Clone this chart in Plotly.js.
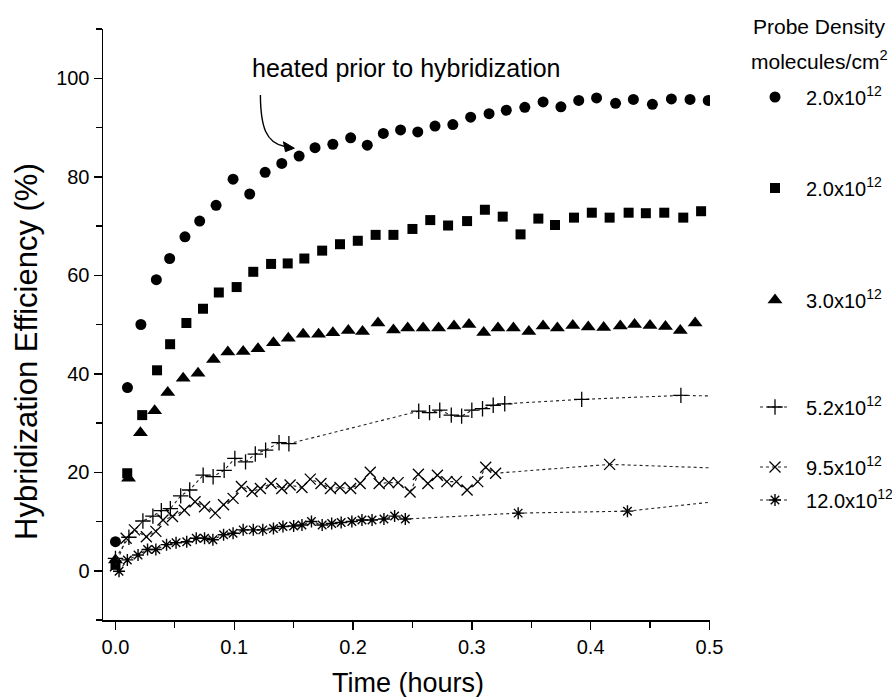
<!DOCTYPE html>
<html>
<head>
<meta charset="utf-8">
<script src="https://cdn.plot.ly/plotly-3.0.1.min.js"></script>
<style>html,body{margin:0;padding:0;background:#fff;}#chart{width:892px;height:697px;}</style>
</head>
<body>
<div id="chart"></div>
<script>
// ---- data ----
const circleX = [0, 0.0101, 0.0214, 0.0344, 0.0456, 0.0585, 0.0709, 0.0847, 0.099, 0.113, 0.126, 0.140, 0.1546, 0.168, 0.183, 0.198, 0.212, 0.2255, 0.240, 0.2545, 0.269, 0.284, 0.299, 0.3145, 0.329, 0.3446, 0.360, 0.375, 0.390, 0.405, 0.421, 0.436, 0.452, 0.468, 0.4837, 0.499];
const circleY = [5.9, 37.2, 50.0, 59.1, 63.4, 67.8, 71.0, 74.2, 79.5, 76.5, 80.9, 82.7, 84.2, 85.9, 86.6, 87.9, 86.4, 88.8, 89.5, 89.1, 90.3, 90.6, 92.1, 92.8, 93.5, 94.1, 95.2, 94.2, 95.5, 96.0, 94.9, 95.7, 94.7, 95.8, 95.7, 95.5];

const squareX = [0, 0.0099, 0.0225, 0.035, 0.046, 0.0597, 0.0737, 0.087, 0.102, 0.116, 0.131, 0.145, 0.159, 0.174, 0.189, 0.204, 0.219, 0.234, 0.250, 0.265, 0.280, 0.296, 0.311, 0.326, 0.341, 0.356, 0.370, 0.386, 0.401, 0.416, 0.432, 0.4465, 0.462, 0.478, 0.493];
const squareY = [1.2, 19.8, 31.6, 40.7, 46.0, 50.3, 53.2, 56.5, 57.6, 60.7, 62.3, 62.4, 63.4, 65.0, 66.3, 67.0, 68.2, 68.2, 69.4, 71.2, 70.1, 71.0, 73.3, 71.9, 68.3, 71.5, 70.2, 71.7, 72.7, 71.7, 72.7, 72.6, 72.7, 71.7, 73.0];

const triX = [0, 0.011, 0.021, 0.033, 0.044, 0.057, 0.0695, 0.0825, 0.0946, 0.1075, 0.120, 0.133, 0.1455, 0.158, 0.171, 0.183, 0.196, 0.208, 0.221, 0.234, 0.246, 0.259, 0.272, 0.285, 0.2976, 0.310, 0.322, 0.335, 0.348, 0.360, 0.372, 0.385, 0.398, 0.411, 0.425, 0.437, 0.450, 0.463, 0.4755, 0.488];
const triY = [2.2, 18.8, 28.0, 32.5, 36.2, 39.1, 40.1, 42.9, 44.4, 44.5, 45.1, 46.3, 47.2, 48.0, 48.0, 48.3, 48.8, 48.6, 50.3, 48.9, 49.3, 49.3, 49.3, 49.7, 50.0, 48.4, 49.3, 49.3, 48.6, 49.7, 49.3, 49.8, 49.5, 49.4, 49.7, 50.0, 49.8, 49.6, 48.8, 50.3];

const plusX = [0, 0.0113, 0.0231, 0.0315, 0.0386, 0.0462, 0.0549, 0.0625, 0.0738, 0.0822, 0.0915, 0.1005, 0.1095, 0.1177, 0.1264, 0.1377, 0.146, 0.2553, 0.2644, 0.273, 0.2827, 0.2914, 0.300, 0.309, 0.318, 0.3277, 0.3925, 0.476];
const plusY = [2.5, 6.8, 10.1, 11.1, 12.2, 12.6, 15.2, 16.4, 19.4, 19.1, 20.4, 22.8, 22.1, 23.7, 24.5, 26.0, 25.8, 32.4, 32.1, 32.6, 31.6, 31.4, 32.6, 32.9, 33.6, 33.9, 34.8, 35.6];

const crossX = [0, 0.009, 0.016, 0.026, 0.034, 0.040, 0.048, 0.058, 0.067, 0.075, 0.084, 0.091, 0.099, 0.106, 0.115, 0.122, 0.131, 0.140, 0.147, 0.157, 0.164, 0.173, 0.181, 0.189, 0.198, 0.206, 0.2145, 0.222, 0.230, 0.238, 0.248, 0.255, 0.263, 0.271, 0.279, 0.287, 0.296, 0.305, 0.3117, 0.320, 0.416];
const crossY = [1.0, 6.6, 8.3, 6.9, 8.0, 10.3, 11.0, 12.3, 14.0, 13.0, 11.7, 13.4, 14.7, 17.1, 16.1, 16.7, 17.7, 16.7, 17.4, 16.9, 18.6, 17.7, 16.7, 16.9, 16.7, 17.7, 20.0, 17.7, 17.9, 17.9, 16.0, 19.6, 17.7, 19.4, 18.1, 18.1, 16.4, 18.1, 21.0, 19.8, 21.6];

const starX = [0.003, 0.010, 0.019, 0.027, 0.034, 0.043, 0.051, 0.060, 0.068, 0.075, 0.082, 0.091, 0.099, 0.1075, 0.116, 0.124, 0.133, 0.141, 0.150, 0.157, 0.165, 0.174, 0.182, 0.190, 0.199, 0.2075, 0.216, 0.226, 0.235, 0.244, 0.339, 0.431];
const starY = [-0.1, 2.2, 3.2, 4.3, 4.3, 5.3, 5.7, 5.9, 6.6, 6.6, 6.3, 7.3, 7.6, 8.3, 8.3, 8.3, 8.6, 9.0, 9.1, 9.3, 10.0, 9.3, 9.6, 9.8, 10.0, 10.3, 10.3, 10.5, 11.1, 10.5, 11.7, 12.1];

// dotted curves continue to the end of the axis
const tailEndX = 0.5;
const plusTailY = 35.5;
const crossTailY = 20.9;
const starTailY = 13.9;

const seriesNames = ["2.0x10<sup>12</sup>", "2.0x10<sup>12</sup>", "3.0x10<sup>12</sup>", "5.2x10<sup>12</sup>", "9.5x10<sup>12</sup>", "12.0x10<sup>12</sup>"];

// ---- drawing ----
const FONT = "Liberation Sans, Arial, Helvetica, sans-serif";
const dotLine = {color: "#222", width: 1.1, dash: "dot"};
const PAD = "\u00a0\u00a0";

function last(a) { return a[a.length - 1]; }

const traces = [
  {x: circleX, y: circleY, mode: "markers", name: PAD + seriesNames[0], legend: "legend",
   marker: {symbol: "circle", size: 11, color: "#000"}},
  {x: squareX, y: squareY, mode: "markers", name: PAD + seriesNames[1], legend: "legend2",
   marker: {symbol: "square", size: 10, color: "#000"}},
  {x: triX, y: triY, mode: "markers", name: PAD + seriesNames[2], legend: "legend3",
   marker: {symbol: "triangle-up", size: 13, color: "#000"}},
  {x: plusX, y: plusY, mode: "lines+markers", name: PAD + seriesNames[3], legend: "legend4",
   line: dotLine, marker: {symbol: "cross-thin-open", size: 11, color: "#000", line: {width: 1.3, color: "#000"}}},
  {x: crossX, y: crossY, mode: "lines+markers", name: PAD + seriesNames[4], legend: "legend5",
   line: dotLine, marker: {symbol: "x-thin-open", size: 11, color: "#000", line: {width: 1.3, color: "#000"}}},
  {x: starX, y: starY, mode: "lines+markers", name: PAD + seriesNames[5], legend: "legend6",
   line: dotLine, marker: {symbol: "asterisk-open", size: 10, color: "#000", line: {width: 1.4, color: "#000"}}},
  {x: [last(plusX), tailEndX], y: [last(plusY), plusTailY], mode: "lines", line: dotLine, showlegend: false, hoverinfo: "skip"},
  {x: [last(crossX), tailEndX], y: [last(crossY), crossTailY], mode: "lines", line: dotLine, showlegend: false, hoverinfo: "skip"},
  {x: [last(starX), tailEndX], y: [last(starY), starTailY], mode: "lines", line: dotLine, showlegend: false, hoverinfo: "skip"}
];

// plot area in pixels
const L = 103, R = 710, T = 29, B = 620;
const W = 892, H = 697;
function px(xp) { return (xp - L) / (R - L); }
function py(yp) { return (B - yp) / (B - T); }

function legendAt(yPix) {
  return {x: px(755), y: py(yPix), xanchor: "left", yanchor: "middle",
          bgcolor: "rgba(0,0,0,0)", borderwidth: 0,
          font: {family: FONT, size: 20, color: "#000"}, itemwidth: 30};
}

function note(text, xPix, yPix, size, angle) {
  return {text: text, xref: "paper", yref: "paper", x: px(xPix), y: py(yPix),
          xanchor: "center", yanchor: "middle", textangle: angle || 0,
          showarrow: false, font: {family: FONT, size: size, color: "#000"}};
}

const layout = {
  width: W, height: H,
  margin: {l: L, r: W - R, t: T, b: H - B, pad: 0, autoexpand: false},
  paper_bgcolor: "#fff", plot_bgcolor: "#fff",
  showlegend: true,
  font: {family: FONT, color: "#000"},
  xaxis: {
    range: [-0.0105, 0.5005], showgrid: false, zeroline: false, automargin: false,
    showline: true, linecolor: "#000", linewidth: 1.5,
    ticks: "outside", ticklen: 8, tickwidth: 1.5, tickcolor: "#000",
    tick0: 0, dtick: 0.1, tickformat: ".1f",
    tickfont: {family: FONT, size: 20, color: "#000"},
    minor: {ticks: "outside", dtick: 0.05, ticklen: 6, tickwidth: 1.2, tickcolor: "#000", showgrid: false}
  },
  yaxis: {
    range: [-10, 110], showgrid: false, zeroline: false, automargin: false,
    showline: true, linecolor: "#000", linewidth: 1.5,
    ticks: "outside", ticklen: 8, tickwidth: 1.5, tickcolor: "#000",
    tick0: 0, dtick: 20,
    tickfont: {family: FONT, size: 20, color: "#000"},
    minor: {ticks: "outside", dtick: 10, ticklen: 6, tickwidth: 1.2, tickcolor: "#000", showgrid: false}
  },
  legend: legendAt(97),
  legend2: legendAt(188),
  legend3: legendAt(300),
  legend4: legendAt(407),
  legend5: legendAt(467),
  legend6: legendAt(500),
  annotations: [
    note("Hybridization Efficiency (%)", 26, 352, 31, -90),
    note("Time (hours)", 408, 683, 27),
    note("heated prior to hybridization", 406, 68, 25),
    note("Probe Density", 819, 26, 21),
    note("molecules/cm<sup>2</sup>", 819, 60, 21)
  ],
  shapes: [
    {type: "path", xref: "x", yref: "y", path: "M0.122,96.6 C0.1222,90 0.127,86.9 0.142,86.2",
     line: {color: "#000", width: 1.4}},
    {type: "path", xref: "x", yref: "y", path: "M0.1506,85.8 L0.1414,87.1 L0.1431,85.1 Z",
     fillcolor: "#000", line: {color: "#000", width: 1}}
  ]
};

Plotly.newPlot("chart", traces, layout, {displayModeBar: false, staticPlot: true});
</script>
</body>
</html>
